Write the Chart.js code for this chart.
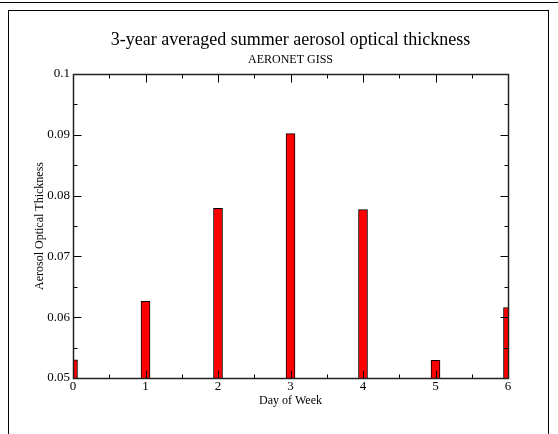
<!DOCTYPE html>
<html>
<head>
<meta charset="utf-8">
<script src="https://cdn.jsdelivr.net/npm/chart.js@4.4.1/dist/chart.umd.min.js"></script>
<style>
  html, body { margin: 0; padding: 0; background: #fff; }
  #wrap { position: relative; width: 558px; height: 434px; overflow: hidden; }
  #topline { position: absolute; left: 0; top: 2px; width: 558px; height: 0; border-top: 1.5px solid #000; }
  #box { position: absolute; left: 8px; top: 10px; width: 539px; height: 440px; border: 1.5px solid #000; border-bottom: none; }
  canvas { position: absolute; left: 0; top: 0; }
</style>
</head>
<body>
<div id="wrap">
  <div id="topline"></div>
  <div id="box"></div>
  <canvas id="c" width="558" height="434"></canvas>
</div>
<script>
const titleText = '3-year averaged summer aerosol optical thickness';
const subtitleText = 'AERONET GISS';
const xAxisTitle = 'Day of Week';
const yAxisTitle = 'Aerosol Optical Thickness';
const days = [0, 1, 2, 3, 4, 5, 6];
const aot = [0.0530, 0.0626, 0.0779, 0.0902, 0.0777, 0.0529, 0.0616];
const xTickLabels = ['0', '1', '2', '3', '4', '5', '6'];
const yTickValues = [0.05, 0.06, 0.07, 0.08, 0.09, 0.1];
const yTickLabels = ['0.05', '0.06', '0.07', '0.08', '0.09', '0.1'];

const serif = "'Liberation Serif', 'DejaVu Serif', serif";

const frameTicks = {
  id: 'frameTicks',
  afterDatasetsDraw(chart) {
    const ctx = chart.ctx;
    const a = chart.chartArea;
    const xs = chart.scales.x, ys = chart.scales.y;
    ctx.save();
    ctx.strokeStyle = '#000';
    ctx.lineWidth = 1;
    const L = Math.round(a.left) + 0.5, R = Math.round(a.right) + 0.5;
    const T = Math.round(a.top) + 0.5, B = Math.round(a.bottom) + 0.5;
    ctx.beginPath();
    for (let i = 0; i < days.length; i++) {
      const px = Math.round(xs.getPixelForValue(days[i])) + 0.5;
      ctx.moveTo(px, B); ctx.lineTo(px, B - 8);
      ctx.moveTo(px, T); ctx.lineTo(px, T + 8);
      if (i < days.length - 1) {
        const pm = Math.round(xs.getPixelForValue((days[i] + days[i + 1]) / 2)) + 0.5;
        ctx.moveTo(pm, B); ctx.lineTo(pm, B - 4);
        ctx.moveTo(pm, T); ctx.lineTo(pm, T + 4);
      }
    }
    for (let i = 0; i < yTickValues.length; i++) {
      const py = Math.round(ys.getPixelForValue(yTickValues[i])) + 0.5;
      ctx.moveTo(L, py); ctx.lineTo(L + 8, py);
      ctx.moveTo(R, py); ctx.lineTo(R - 8, py);
      if (i < yTickValues.length - 1) {
        const pm = Math.round(ys.getPixelForValue((yTickValues[i] + yTickValues[i + 1]) / 2)) + 0.5;
        ctx.moveTo(L, pm); ctx.lineTo(L + 4, pm);
        ctx.moveTo(R, pm); ctx.lineTo(R - 4, pm);
      }
    }
    ctx.stroke();
    ctx.lineWidth = 1.5;
    ctx.strokeStyle = '#222';
    ctx.strokeRect(L, T, R - L, B - T);
    ctx.restore();
  }
};

new Chart(document.getElementById('c'), {
  type: 'bar',
  data: {
    datasets: [{
      data: days.map((d, i) => ({ x: d, y: aot[i] })),
      backgroundColor: '#ff0000',
      borderColor: '#000',
      borderWidth: 1,
      borderSkipped: false,
      barThickness: 9,
      clip: 0
    }]
  },
  options: {
    responsive: false,
    animation: false,
    devicePixelRatio: 1,
    layout: { padding: { left: 0, right: 50, top: 0, bottom: 0 } },
    plugins: {
      legend: { display: false },
      tooltip: { enabled: false },
      title: {
        display: true, text: titleText, color: '#000', fullSize: false,
        font: { family: serif, size: 18, weight: 'normal' },
        padding: { top: 29, bottom: 0 }
      },
      subtitle: {
        display: true, text: subtitleText, color: '#000', fullSize: false,
        font: { family: serif, size: 12, weight: 'normal' },
        padding: { top: 2, bottom: 7 }
      }
    },
    scales: {
      x: {
        type: 'linear', min: 0, max: 6, offset: false,
        grid: { display: false, drawTicks: false },
        border: { display: false },
        afterBuildTicks: s => { s.ticks = days.map(v => ({ value: v })); },
        ticks: {
          color: '#000', font: { family: serif, size: 13 }, padding: 1,
          maxRotation: 0, autoSkip: false,
          callback: (v, i) => xTickLabels[i]
        },
        title: {
          display: true, text: xAxisTitle, color: '#000',
          font: { family: serif, size: 12 }, padding: { top: 0, bottom: 26 }
        },
        afterFit: s => { s.height = 56; }
      },
      y: {
        type: 'linear', min: 0.05, max: 0.1,
        grid: { display: false, drawTicks: false },
        border: { display: false },
        afterBuildTicks: s => { s.ticks = yTickValues.map(v => ({ value: v })); },
        ticks: {
          color: '#000', font: { family: serif, size: 13 }, padding: 3,
          autoSkip: false,
          callback: (v, i) => yTickLabels[i]
        },
        title: {
          display: true, text: yAxisTitle, color: '#000',
          font: { family: serif, size: 12 }, padding: { top: 33, bottom: 0 }
        },
        afterFit: s => { s.width = 73; }
      }
    }
  },
  plugins: [frameTicks]
});
</script>
</body>
</html>
